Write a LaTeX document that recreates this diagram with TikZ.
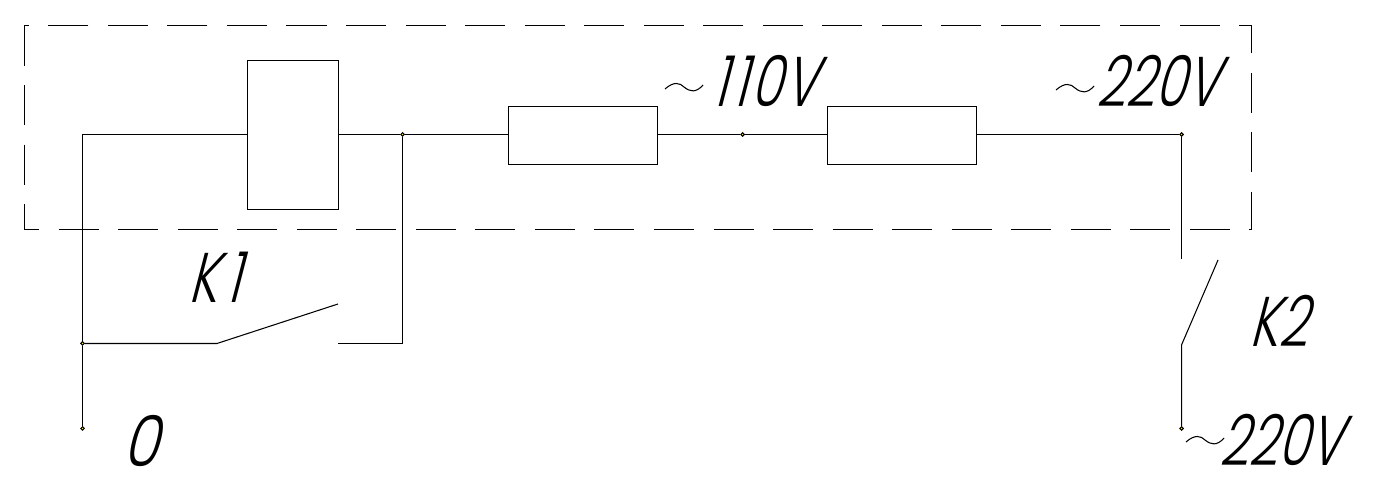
\documentclass[tikz,border=0pt]{standalone}
\usepackage{fontspec}
\newfontfamily\lblfont{Poppins Light}
\usepackage{xcolor}

\tikzset{
	wire/.style={line width=0.3pt},
	load/.style={draw, line width=0.3pt, inner sep=0, minimum width=1.49cm, minimum height=0.58cm},
	term/.style={circle, draw, fill=yellow, line width=0.3pt, inner sep=0, minimum size=0.035cm},
	lbl/.style={transform shape, xscale=0.72, xslant=0.36, inner sep=0, font=\lblfont\fontsize{20}{20}\selectfont},
	wave/.pic={\draw[wire] (-19,2) .. controls (-10,-6) and (-4,-4) .. (0,0) .. controls (6,5) and (12,6) .. (19,-2);}
}

\begin{document}
\begin{tikzpicture}[x=0.01cm,y=-0.01cm]
\useasboundingbox (0,0) rectangle (1377,486);

% enclosure
\draw[wire, dash pattern=on 0.4cm off 0.195cm] (24.5,25.5) rectangle (1251.5,229.5);

% relay coil and resistors
\node[load, minimum width=0.91cm, minimum height=1.49cm] (coil) at (293,135) {};
\node[load] (resA) at (583,135.5) {};
\node[load] (resB) at (902,135.5) {};

% terminals
\foreach \n/\x/\y in {tapA/402.5/134.5, tapB/742.5/134.5, tapC/1181.5/134.5, tapD/82.5/343.5, zero/82.5/428.5, phase/1181.5/428.5}{
	\node[term] (\n) at (\x,\y) {};
}

\coordinate (corner) at (82.5,134.5);
\coordinate (kOneHinge) at (217,343.5);
\coordinate (kOneBlade) at (338,304);
\coordinate (kOneFixed) at (338,343.5);
\coordinate (kOneBend) at (402.5,343.5);
\coordinate (kTwoFixed) at (1181.5,259);
\coordinate (kTwoBlade) at (1218,260);
\coordinate (kTwoHinge) at (1181.5,345);

% main line
\draw[wire] (coil.west |- corner) -- (corner) -- (tapD) -- (zero);
\draw[wire] (coil.east |- tapA) -- (tapA) -- (resA.west |- tapA);
\draw[wire] (resA.east |- tapB) -- (tapB) -- (resB.west |- tapB);
\draw[wire] (resB.east |- tapC) -- (tapC) -- (kTwoFixed);

% K1
\draw[wire] (tapD) -- (kOneHinge) -- (kOneBlade);
\draw[wire] (kOneFixed) -- (kOneBend) -- (tapA);
% K2
\draw[wire] (kTwoBlade) -- (kTwoHinge) -- (phase);

% labels
\node[lbl] (lblK1) at (221,277) {K\kern3pt 1};
\node[lbl] (lblK2) at (1285,321) {K2};
\node[lbl, xscale=1.15] (lblZero) at (147,441) {0};
\node[lbl] (lblMid) at (771,81) {1\kern2pt 1\kern1.5pt 0\kern0.5pt V};
\node[lbl] (lblTop) at (1164,81) {220V};
\node[lbl] (lblBot) at (1287,440) {220V};

\pic at (684,87) {wave};
\pic at (1075,88) {wave};
\pic at (1205,440) {wave};
\end{tikzpicture}
\end{document}
